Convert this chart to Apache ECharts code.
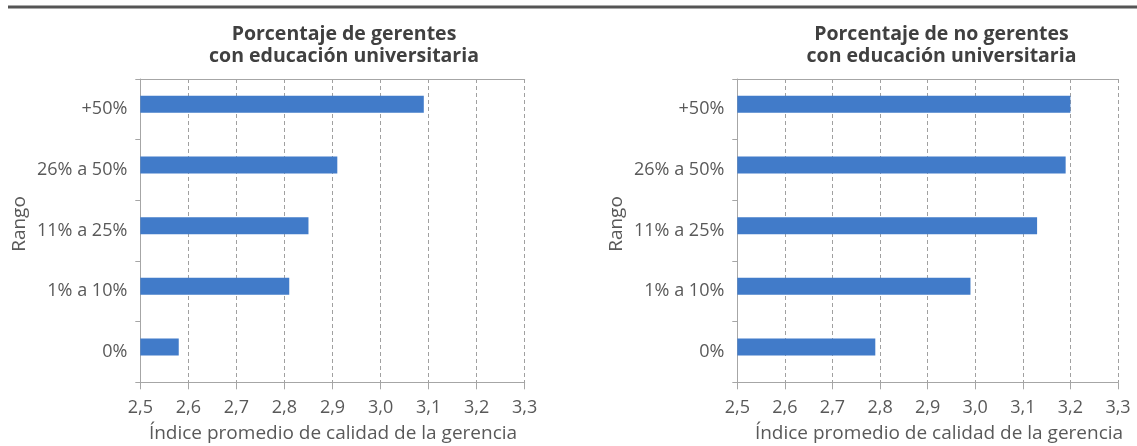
<!DOCTYPE html>
<html>
<head>
<meta charset="utf-8">
<script src="https://cdn.jsdelivr.net/npm/echarts@6/dist/echarts.min.js"></script>
<style>
  html, body { margin: 0; padding: 0; background: #ffffff; }
  #chart { width: 1137px; height: 446px; }
</style>
</head>
<body>
<div id="chart"></div>
<script>
// Categories, bottom to top
const categories = ['0%', '1% a 10%', '11% a 25%', '26% a 50%', '+50%'];
// Average management quality index per range
const gerentesValues = [2.58, 2.81, 2.85, 2.91, 3.09];
const noGerentesValues = [2.79, 2.99, 3.13, 3.19, 3.20];
// Value axis ticks
const xMin = 2.5;
const xMax = 3.3;
const xStep = 0.1;
// Texts
const leftTitle = ['Porcentaje de gerentes', 'con educación universitaria'];
const rightTitle = ['Porcentaje de no gerentes', 'con educación universitaria'];
const xAxisTitle = 'Índice promedio de calidad de la gerencia';
const yAxisTitle = 'Rango';

const FONT = '"Open Sans", "Noto Sans", sans-serif';
const BAR_COLOR = '#417BC9';
const AXIS_COLOR = '#a6a6a6';
const GRID_COLOR = '#a0a0a0';
const LABEL_COLOR = '#595959';
const TITLE_COLOR = '#404040';

const grids = [
  { left: 140.3, top: 79, width: 384.4, height: 303.3 },
  { left: 737.3, top: 79, width: 380.7, height: 303.3 }
];

function valueAxis(gridIndex) {
  return {
    type: 'value', gridIndex, min: xMin, max: xMax, interval: xStep,
    axisLine: { show: true, lineStyle: { color: AXIS_COLOR, width: 1 } },
    axisTick: { show: true, length: 7, lineStyle: { color: AXIS_COLOR } },
    axisLabel: {
      margin: 17, color: LABEL_COLOR, fontFamily: FONT, fontSize: 18,
      formatter: v => v.toFixed(1).replace('.', ',')
    },
    splitLine: { show: true, lineStyle: { color: GRID_COLOR, type: [4, 3], width: 1 } }
  };
}

function topBorderAxis(gridIndex) {
  return {
    type: 'value', gridIndex, position: 'top', min: xMin, max: xMax, interval: xStep,
    axisLine: { show: true, onZero: false, lineStyle: { color: AXIS_COLOR, width: 1 } },
    axisTick: { show: false }, axisLabel: { show: false }, splitLine: { show: false }
  };
}

function categoryAxis(gridIndex) {
  return {
    type: 'category', gridIndex, data: categories,
    axisLine: { show: true, onZero: false, lineStyle: { color: AXIS_COLOR, width: 1 } },
    axisTick: { show: true, length: 5, interval: 0, alignWithLabel: false, lineStyle: { color: AXIS_COLOR } },
    axisLabel: {
      margin: 13, color: LABEL_COLOR, fontFamily: FONT, fontSize: 18,
      padding: [0, 0, 12, 0]
    },
    splitLine: { show: false }
  };
}

function barSeries(gridIndex, values) {
  return [
    {
      type: 'bar', xAxisIndex: gridIndex, yAxisIndex: gridIndex, data: values,
      barWidth: 17, barGap: '-41%', itemStyle: { color: BAR_COLOR },
      silent: true, animation: false
    },
    // empty companion series that reserves the lower slot of each band
    {
      type: 'bar', xAxisIndex: gridIndex, yAxisIndex: gridIndex, data: [],
      barWidth: 17, barGap: '-41%', silent: true, animation: false
    }
  ];
}

function text(x, y, str, size, weight, color, extra) {
  return Object.assign({
    type: 'text', x, y, silent: true,
    style: {
      text: str, fill: color, fontFamily: FONT, fontSize: size, fontWeight: weight,
      align: 'center', verticalAlign: 'middle'
    }
  }, extra || {});
}

const chart = echarts.init(document.getElementById('chart'), null, { renderer: 'canvas' });
chart.setOption({
  animation: false,
  grid: grids,
  xAxis: [valueAxis(0), valueAxis(1), topBorderAxis(0), topBorderAxis(1)],
  yAxis: [categoryAxis(0), categoryAxis(1)],
  series: [...barSeries(0, gerentesValues), ...barSeries(1, noGerentesValues)],
  graphic: [
    { type: 'line', silent: true, shape: { x1: 8, y1: 7, x2: 1137, y2: 7 },
      style: { stroke: '#555555', lineWidth: 3 } },
    text(344, 34, leftTitle[0], 19.5, 'bold', TITLE_COLOR),
    text(344, 56, leftTitle[1], 19.5, 'bold', TITLE_COLOR),
    text(941.5, 34, rightTitle[0], 19.5, 'bold', TITLE_COLOR),
    text(941.5, 56, rightTitle[1], 19.5, 'bold', TITLE_COLOR),
    text(333, 434, xAxisTitle, 19, 'normal', LABEL_COLOR),
    text(939, 434, xAxisTitle, 19, 'normal', LABEL_COLOR),
    text(20, 224, yAxisTitle, 19, 'normal', LABEL_COLOR, { rotation: Math.PI / 2 }),
    text(617, 224, yAxisTitle, 19, 'normal', LABEL_COLOR, { rotation: Math.PI / 2 })
  ]
});
</script>
</body>
</html>
